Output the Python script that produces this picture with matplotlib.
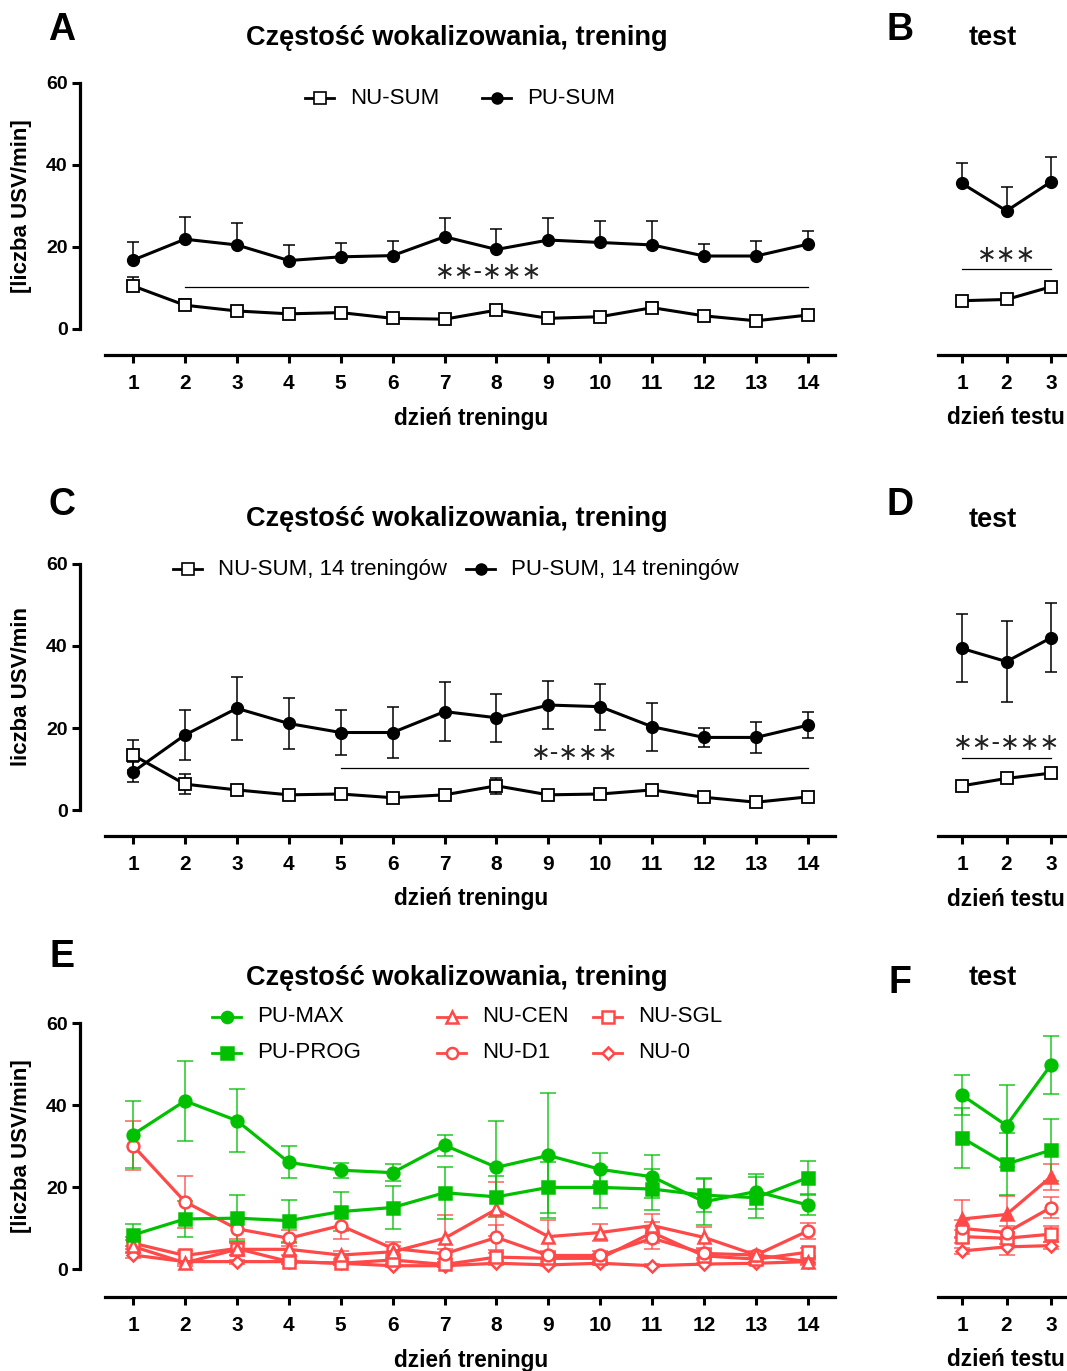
import numpy as np
import matplotlib
matplotlib.use("Agg")
import matplotlib.pyplot as plt
from matplotlib.lines import Line2D

plt.rcParams['font.family'] = ['Liberation Sans', 'DejaVu Sans']

W, H = 1067, 1371
GREEN = '#00c000'
RED = '#ff4848'

days = np.arange(1, 15)
test_days = np.arange(1, 4)

# A / B - sumy, trening i test
a_pu = [16.8, 21.9, 20.5, 16.7, 17.6, 17.9, 22.5, 19.4, 21.7, 21.1, 20.5, 17.8, 17.8, 20.7]
a_pu_err = [4.3, 5.5, 5.3, 3.8, 3.3, 3.6, 4.5, 5.0, 5.3, 5.2, 5.9, 2.9, 3.7, 3.2]
a_nu = [10.5, 5.8, 4.4, 3.7, 4.0, 2.6, 2.4, 4.6, 2.6, 3.0, 5.2, 3.2, 2.0, 3.4]
a_nu_err = [2.3, 1.5, 0.6, 0.5, 0.5, 0.5, 0.5, 0.8, 0.5, 0.5, 1.5, 0.5, 0.5, 0.5]
b_pu = [35.5, 28.8, 35.9]
b_pu_err = [5.1, 5.9, 6.0]
b_nu = [6.9, 7.2, 10.3]
b_nu_err = [0.6, 0.6, 1.0]

# C / D - 14 treningow
c_pu = [9.3, 18.3, 24.8, 21.1, 18.9, 18.9, 24.0, 22.5, 25.6, 25.2, 20.3, 17.7, 17.7, 20.7]
c_pu_err = [2.5, 6.0, 7.7, 6.1, 5.6, 6.2, 7.2, 5.8, 5.8, 5.6, 5.9, 2.3, 3.7, 3.2]
c_nu = [13.4, 6.3, 4.9, 3.7, 3.9, 3.0, 3.7, 5.9, 3.7, 3.9, 4.9, 3.1, 1.9, 3.2]
c_nu_err = [3.7, 2.5, 0.8, 0.6, 0.6, 0.6, 0.6, 1.9, 0.6, 0.6, 1.2, 0.6, 0.5, 0.6]
d_pu = [39.4, 36.2, 42.0]
d_pu_err = [8.3, 9.9, 8.4]
d_nu = [5.9, 7.7, 9.0]
d_nu_err = [0.6, 0.8, 0.9]

# E / F - grupy
groups = ['PU-MAX', 'PU-PROG', 'NU-CEN', 'NU-D1', 'NU-SGL', 'NU-0']
e_vals = {
    'PU-MAX': [32.8, 41.0, 36.2, 26.0, 24.1, 23.5, 30.2, 24.8, 27.7, 24.3, 22.5, 16.4, 18.9, 15.6],
    'PU-PROG': [8.3, 12.2, 12.4, 11.8, 14.0, 15.0, 18.6, 17.6, 19.9, 19.9, 19.5, 18.0, 17.4, 22.3],
    'NU-CEN': [5.5, 1.5, 4.8, 4.8, 3.4, 4.2, 7.5, 14.6, 7.9, 8.9, 10.6, 7.7, 3.4, 1.8],
    'NU-D1': [30.1, 16.4, 9.8, 7.5, 10.6, 5.0, 3.7, 7.7, 3.3, 3.3, 7.5, 3.8, 3.4, 9.3],
    'NU-SGL': [6.3, 3.3, 5.0, 1.8, 1.4, 2.2, 1.1, 2.9, 2.6, 2.6, 8.9, 3.2, 2.4, 4.1],
    'NU-0': [3.4, 1.8, 1.8, 1.8, 1.4, 0.8, 0.8, 1.4, 1.0, 1.4, 0.8, 1.2, 1.4, 1.8],
}
e_errs = {
    'PU-MAX': [8.1, 9.7, 7.7, 3.9, 1.8, 2.1, 2.6, 11.4, 15.3, 3.9, 5.2, 5.7, 4.2, 2.5],
    'PU-PROG': [2.6, 4.4, 5.6, 5.1, 4.8, 5.3, 6.4, 5.0, 6.3, 5.0, 5.0, 4.0, 5.0, 4.0],
    'NU-CEN': [1.5, 0.8, 1.5, 1.5, 1.0, 1.5, 5.7, 6.5, 4.0, 2.0, 2.8, 2.5, 1.0, 0.8],
    'NU-D1': [6.0, 6.4, 2.5, 2.0, 3.3, 1.5, 1.2, 3.0, 1.0, 1.0, 2.5, 1.0, 0.8, 2.0],
    'NU-SGL': [1.5, 1.2, 1.5, 0.6, 0.5, 0.8, 0.5, 1.0, 1.0, 1.0, 2.5, 1.0, 0.8, 1.0],
    'NU-0': [0.8, 0.5, 0.5, 0.5, 0.4, 0.3, 0.3, 0.4, 0.3, 0.4, 0.3, 0.3, 0.4, 0.5],
}
f_vals = {
    'PU-MAX': [42.4, 35.0, 49.8],
    'PU-PROG': [32.0, 25.6, 29.0],
    'NU-CEN': [12.2, 13.3, 22.5],
    'NU-D1': [9.9, 8.9, 15.0],
    'NU-SGL': [7.9, 7.5, 8.5],
    'NU-0': [4.4, 5.4, 5.7],
}
f_errs = {
    'PU-MAX': [4.9, 10.0, 7.0],
    'PU-PROG': [7.3, 7.6, 7.5],
    'NU-CEN': [4.6, 4.6, 3.2],
    'NU-D1': [2.0, 1.5, 2.5],
    'NU-SGL': [1.5, 1.5, 2.0],
    'NU-0': [0.8, 2.0, 0.8],
}
styles = {
    'PU-MAX': dict(color=GREEN, marker='o', mfc=GREEN),
    'PU-PROG': dict(color=GREEN, marker='s', mfc=GREEN),
    'NU-CEN': dict(color=RED, marker='^', mfc='white'),
    'NU-D1': dict(color=RED, marker='o', mfc='white'),
    'NU-SGL': dict(color=RED, marker='s', mfc='white'),
    'NU-0': dict(color=RED, marker='D', mfc='white', ms=6.5),
}

fig = plt.figure(figsize=(W / 100, H / 100), dpi=100)


def box(x0, x1, ytop, ybot):
    return [x0 / W, 1 - ybot / H, (x1 - x0) / W, (ybot - ytop) / H]


def ftext(x, y, s, **kw):
    fig.text(x / W, 1 - y / H, s, ha='center', va='center', **kw)


def setup(ax, ticks, x0, x1, ybot, show_y=True):
    ax.set_xlim(x0, x1)
    ax.set_ylim(ybot, 60)
    ax.patch.set_alpha(0)
    for s in ['top', 'right']:
        ax.spines[s].set_visible(False)
    ax.spines['bottom'].set_bounds(ticks[0] - 0.54, x1)
    ax.spines['bottom'].set_linewidth(2.3)
    ax.set_xticks(ticks)
    ax.tick_params(axis='x', width=2.2, length=6, labelsize=15, pad=8)
    if show_y:
        ax.spines['left'].set_bounds(0, 60)
        ax.spines['left'].set_linewidth(2.3)
        ax.set_yticks([0, 20, 40, 60])
        ax.tick_params(axis='y', width=2.2, length=6, labelsize=14, pad=3)
    else:
        ax.spines['left'].set_visible(False)
        ax.set_yticks([])
    for lbl in ax.get_xticklabels() + ax.get_yticklabels():
        lbl.set_fontweight('bold')


def legend_entry(x, y, label, size=16, **st):
    st = dict(st)
    ms = st.pop('ms', 8)
    yy = 1 - y / H
    fig.add_artist(Line2D([x / W, (x + 29) / W], [yy, yy], lw=2, color=st['color'],
                          transform=fig.transFigure))
    fig.add_artist(Line2D([(x + 14.5) / W], [yy], lw=0, ms=ms,
                          transform=fig.transFigure, **st))
    fig.text((x + 45) / W, yy, label, ha='left', va='center', fontsize=size)


def bw_pair(ax, x, pu, pu_err, nu, nu_err, both):
    lo_pu = pu_err if both else [0] * len(pu)
    lo_nu = nu_err if both else [0] * len(nu)
    ax.errorbar(x, pu, yerr=[lo_pu, pu_err], fmt='none', ecolor='black', elinewidth=1.1,
                capsize=4.5, capthick=1.1)
    ax.errorbar(x, nu, yerr=[lo_nu, nu_err], fmt='none', ecolor='black', elinewidth=1.1,
                capsize=4.5, capthick=1.1)
    ax.plot(x, nu, color='black', lw=2.2, marker='s', ms=9, mfc='white', mec='black',
            mew=1.3, zorder=3)
    ax.plot(x, pu, color='black', lw=2.2, marker='o', ms=8.5, mfc='black', zorder=3)


def sig(ax, x0, x1, y, txt, tx=None):
    ax.plot([x0, x1], [y, y], color='black', lw=0.9)
    tx = (x0 + x1) / 2 if tx is None else tx
    ax.text(tx, y + 0.6, txt, ha='center', va='bottom', fontsize=17,
            family='DejaVu Sans', color='#222222')


# ---------- A / B ----------
axA = fig.add_axes(box(80, 835, 83, 355))
setup(axA, days, -0.021, 14.52, -26 / 4.1)
bw_pair(axA, days, a_pu, a_pu_err, a_nu, a_nu_err, both=False)
sig(axA, 2, 14, 10.3, '∗∗-∗∗∗', tx=7.85)

axB = fig.add_axes(box(938, 1067, 83, 355))
setup(axB, test_days, 0.46, 3.36, -26 / 4.1, show_y=False)
bw_pair(axB, test_days, b_pu, b_pu_err, b_nu, b_nu_err, both=False)
sig(axB, 1, 3, 14.6, '∗∗∗')

# ---------- C / D ----------
axC = fig.add_axes(box(80, 835, 564, 836))
setup(axC, days, -0.021, 14.52, -26 / 4.1)
bw_pair(axC, days, c_pu, c_pu_err, c_nu, c_nu_err, both=True)
sig(axC, 5, 14, 10.3, '∗-∗∗∗')

axD = fig.add_axes(box(938, 1067, 564, 836))
setup(axD, test_days, 0.46, 3.36, -26 / 4.1, show_y=False)
bw_pair(axD, test_days, d_pu, d_pu_err, d_nu, d_nu_err, both=True)
sig(axD, 1, 3, 12.8, '∗∗-∗∗∗')

# ---------- E / F ----------
axE = fig.add_axes(box(80, 835, 1023, 1297))
setup(axE, days, -0.021, 14.52, -28 / 4.1)
axF = fig.add_axes(box(938, 1067, 1023, 1297))
setup(axF, test_days, 0.46, 3.36, -28 / 4.1, show_y=False)

for g in groups[::-1]:
    st = dict(styles[g])
    ms = st.pop('ms', 8.5)
    col = st['color']
    for ax, x, vals, errs in [(axE, days, e_vals[g], e_errs[g]), (axF, test_days, f_vals[g], f_errs[g])]:
        ax.errorbar(x, vals, yerr=errs, fmt='none', ecolor=col, elinewidth=1.2,
                    capsize=6, capthick=1.2, alpha=0.8)
        mfc = st['mfc']
        if ax is axF and g == 'NU-CEN':
            mfc = RED
        ax.plot(x, vals, color=col, lw=2.3, marker=st['marker'], ms=ms, mfc=mfc,
                mec=col, mew=1.8, zorder=3)

# ---------- texts ----------
for y in [38, 519, 978]:
    ftext(457, y, 'Częstość wokalizowania, trening', fontsize=19.5, fontweight='bold')
for y in [38, 520, 978]:
    ftext(993, y, 'test', fontsize=19.5, fontweight='bold')
for lt, x, y in [('A', 62, 30), ('B', 900, 30), ('C', 62, 505), ('D', 900, 505),
                 ('E', 62, 957), ('F', 900, 983)]:
    ftext(x, y, lt, fontsize=27, fontweight='bold')
for y in [418, 899, 1360]:
    ftext(471, y, 'dzień treningu', fontsize=16.3, fontweight='bold')
    ftext(1006, y, 'dzień testu', fontsize=16.3, fontweight='bold')
ftext(22, 206, '[liczba USV/min]', fontsize=16, fontweight='bold', rotation=90)
ftext(22, 687, 'liczba USV/min', fontsize=16, fontweight='bold', rotation=90)
ftext(22, 1146, '[liczba USV/min]', fontsize=16, fontweight='bold', rotation=90)

# legends
sq = dict(color='black', marker='s', mfc='white', mec='black', mew=1.2, ms=8)
dot = dict(color='black', marker='o', mfc='black', ms=8)
legend_entry(305, 98, 'NU-SUM', **sq)
legend_entry(482, 98, 'PU-SUM', **dot)
legend_entry(173, 569, 'NU-SUM, 14 treningów', **sq)
legend_entry(466, 569, 'PU-SUM, 14 treningów', **dot)

for g, (x, y) in zip(groups, [(212, 1017), (212, 1053), (437, 1017), (437, 1053),
                              (593, 1017), (593, 1053)]):
    st = dict(styles[g])
    st['mec'] = st['color']
    st.setdefault('ms', 8)
    legend_entry(x, y, g, mew=1.8, **st)

fig.savefig('out.png', dpi=100)
